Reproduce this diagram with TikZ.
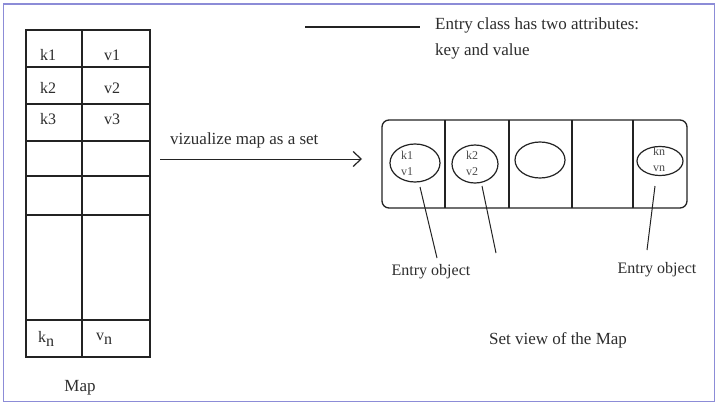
\documentclass[tikz,border=0pt]{standalone}
\usepackage{fontspec}
\setmainfont{Liberation Serif}
\usetikzlibrary{arrows.meta,shapes.geometric}
\definecolor{frameblue}{RGB}{140,140,215}
\definecolor{ink}{RGB}{35,35,35}
\definecolor{txt}{RGB}{45,45,45}
\begin{document}
\begin{tikzpicture}[x=1pt,y=-1pt,
  lbl/.style={text=txt,font=\fontsize{17}{19}\selectfont,inner sep=0pt},
  cell/.style={text=txt,font=\fontsize{16}{18}\selectfont,inner sep=0pt},
  small/.style={text=txt!85,font=\fontsize{12}{13}\selectfont,inner sep=0pt},
  grid/.style={draw=ink,line width=1.3pt},
  thin/.style={draw=ink,line width=1pt},
  entry/.style={ellipse,draw=ink,line width=1.2pt,inner sep=0pt}]
\useasboundingbox (0,0) rectangle (720,407);
\fill[white] (0,0) rectangle (720,407);
\draw[frameblue,line width=1.5pt] (3.5,4) rectangle (714.5,401.5);
% Map table
\draw[grid] (26,30) rectangle (150,357);
\draw[grid] (82,30) -- (82,357);
\foreach \yy in {67,104,141,176,215,320} \draw[grid] (26,\yy) -- (150,\yy);
\node[cell] (k1) at (48,55) {k1};
\node[cell] (v1) at (112,55) {v1};
\node[cell] (k2) at (48,88) {k2};
\node[cell] (v2) at (112,88) {v2};
\node[cell] (k3) at (48,119) {k3};
\node[cell] (v3) at (112,119) {v3};
\node[cell] (kn) at (46,339) {k\raisebox{-4pt}{n}};
\node[cell] (vn) at (104,339) {v\raisebox{-4pt}{n}};
\node[lbl] (map) at (80,388) {Map};
% legend
\coordinate (lg1) at (305,27);
\coordinate (lg2) at (420,27);
\draw[grid] (lg1) -- (lg2);
\node[lbl,anchor=west] (leg1) at (435,25) {Entry class has two attributes:};
\node[lbl,anchor=west] (leg2) at (435,51) {key and value};
% arrow
\coordinate (a1) at (160,159);
\coordinate (a2) at (362,159);
\draw[thin,-{Straight Barb[length=8pt,width=15pt,line width=1.2pt]}] (a1) -- (a2);
\node[lbl,anchor=west] (viz) at (170,140) {vizualize map as a set};
% set view
\draw[grid,rounded corners=7pt] (382,120) rectangle (687,208);
\foreach \xx in {445,509,572,633} \draw[grid] (\xx,120) -- (\xx,208);
\node[entry,minimum width=50pt,minimum height=38pt] (e1) at (415,163) {};
\node[entry,minimum width=46pt,minimum height=38pt] (e2) at (475,164) {};
\node[entry,minimum width=50pt,minimum height=36pt] (e3) at (540,160) {};
\node[entry,minimum width=46pt,minimum height=29pt] (e4) at (660,161) {};
\node[small] (ek1) at (407,155) {k1};
\node[small] (ev1) at (407,172) {v1};
\node[small] (ek2) at (472,155) {k2};
\node[small] (ev2) at (472,172) {v2};
\node[small] (ekn) at (659,151) {kn};
\node[small] (evn) at (659,169) {vn};
\node[cell] (eo1) at (431,272) {Entry object};
\node[cell] (eo2) at (657,270) {Entry object};
\node[lbl] (setv) at (558,340) {Set view of the Map};
\coordinate (p1) at (420,187);
\coordinate (q1) at (437,258);
\coordinate (p2) at (482,186);
\coordinate (q2) at (496,253);
\coordinate (p3) at (655,186);
\coordinate (q3) at (647,250);
\draw[thin] (p1) -- (q1);
\draw[thin] (p2) -- (q2);
\draw[thin] (p3) -- (q3);
\end{tikzpicture}
\end{document}
